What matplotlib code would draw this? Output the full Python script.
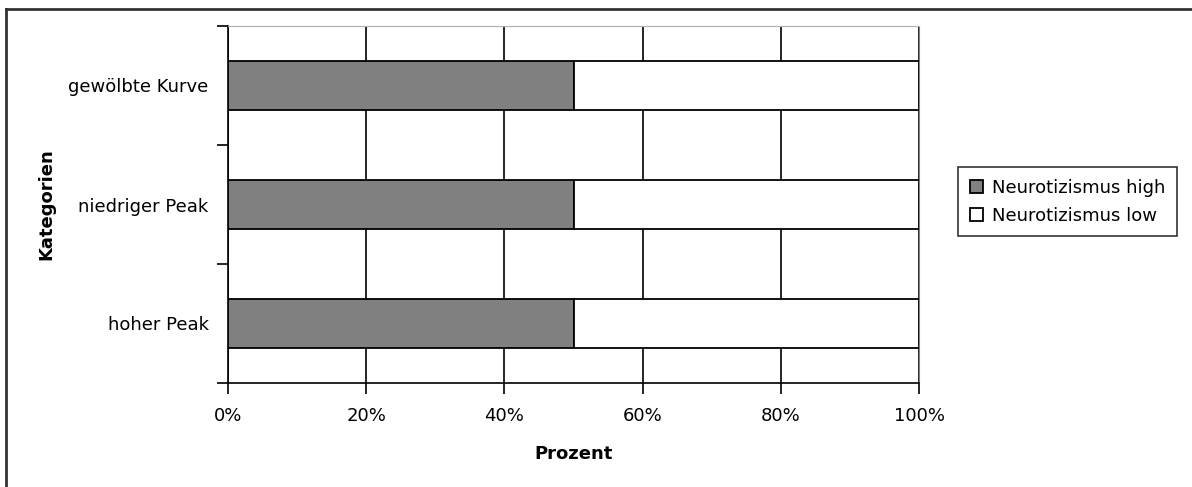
import matplotlib.pyplot as plt
from matplotlib.lines import Line2D
from matplotlib.ticker import FixedLocator, PercentFormatter

plt.rcParams['font.family'] = 'DejaVu Sans'

# Categories bottom to top, shares in percent
categories = ['hoher Peak', 'niedriger Peak', 'gewölbte Kurve']
high = [50, 50, 50]
low = [50, 50, 50]
series_names = ['Neurotizismus high', 'Neurotizismus low']

fig = plt.figure(figsize=(11.92, 4.87), dpi=100)
ax = fig.add_axes([228 / 1192, 1 - 383 / 487, (919 - 228) / 1192, (383 - 26) / 487])

pos = list(range(len(categories)))
ax.barh(pos, high, height=0.41, color='#808080', edgecolor='black', linewidth=1.3,
        label=series_names[0], zorder=3)
ax.barh(pos, low, left=high, height=0.41, color='white', edgecolor='black', linewidth=1.3,
        label=series_names[1], zorder=3)

ax.set_xlim(0, 100)
ax.set_ylim(-0.5, len(categories) - 0.5)

# x axis: percent ticks every 20 with vertical grid
ax.xaxis.set_major_locator(FixedLocator([0, 20, 40, 60, 80, 100]))
ax.xaxis.set_major_formatter(PercentFormatter(decimals=0))
ax.grid(axis='x', color='black', linewidth=1.2, zorder=0)
ax.tick_params(axis='x', length=8, width=1.2, pad=9, labelsize=13, colors='black')

# y axis: tick marks between categories, labels at the centres
ax.yaxis.set_major_locator(FixedLocator([p - 0.5 for p in pos] + [pos[-1] + 0.5]))
ax.yaxis.set_major_formatter(plt.NullFormatter())
ax.yaxis.set_minor_locator(FixedLocator(pos))
ax.set_yticklabels(categories, minor=True)
ax.tick_params(axis='y', which='major', length=8, width=1.2)
ax.tick_params(axis='y', which='minor', length=0, pad=14, labelsize=13)

ax.spines['left'].set_linewidth(1.2)
ax.spines['bottom'].set_linewidth(1.2)
ax.spines['top'].set_color('#b0b0b0')
ax.spines['right'].set_color('#808080')

ax.set_xlabel('Prozent', fontsize=13, fontweight='bold', labelpad=15)
ax.set_ylabel('Kategorien', fontsize=13, fontweight='bold')
ax.yaxis.set_label_coords(-0.25, 0.5)

leg = ax.legend(loc='upper left', bbox_to_anchor=(958 / 1192, 1 - 167 / 487),
                bbox_transform=fig.transFigure, fontsize=13, frameon=True,
                fancybox=False, edgecolor='black', handlelength=0.75, handleheight=0.75,
                handletextpad=0.5, borderpad=0.65, labelspacing=0.55, borderaxespad=0)
leg.get_frame().set_linewidth(1.2)

# outer chart border (top and left edges)
fig.add_artist(Line2D([6 / 1192, 1], [1 - 9 / 487, 1 - 9 / 487], color='#333333', linewidth=2))
fig.add_artist(Line2D([6 / 1192, 6 / 1192], [0, 1 - 9 / 487], color='#333333', linewidth=2))

fig.savefig('out.png', dpi=100, facecolor='white')
